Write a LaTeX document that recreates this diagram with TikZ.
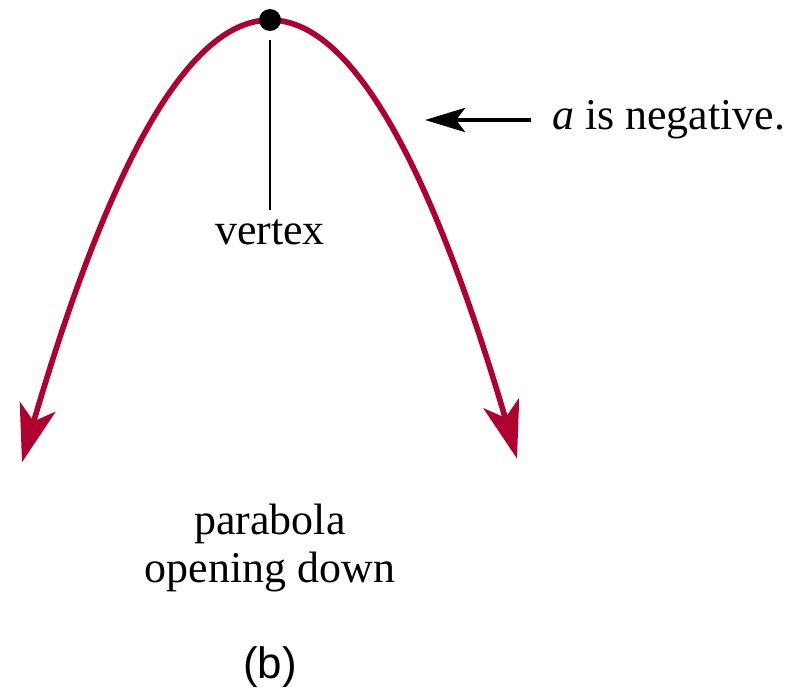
\documentclass[tikz,border=0pt]{standalone}
\usepackage{fontspec}
\setmainfont{Liberation Serif}
\setsansfont{Liberation Sans}
\usetikzlibrary{arrows.meta,positioning}
\definecolor{parared}{RGB}{176,0,48}

\begin{document}
\begin{tikzpicture}[
    x=0.02cm, y=-0.02cm,
    every node/.style={font=\fontsize{25}{27}\selectfont},
    label/.style={align=center, inner sep=1pt},
    curve/.style={{Stealth[length=11.5mm,width=7.4mm,inset=3mm]}-{Stealth[length=11.5mm,width=7.4mm,inset=3mm]}, line width=3.2pt, parared},
    pointer/.style={-{Stealth[length=8mm,width=4.8mm,inset=1.8mm]}, line width=2.8pt},
    stem/.style={line width=1.1pt, shorten <=5pt, shorten >=4pt}
]
\useasboundingbox (0,0) rectangle (804,692);
\draw[curve] plot[domain=-2.48:2.47, samples=120] ({270+100*\x},{20+71.9*\x*\x});
\node[circle, fill=black, inner sep=0pt, minimum size=0.44cm] (top) at (270,20) {};
\node[label] (vert) at (270,232) {vertex};
\node[label, anchor=west] (neg) at (550,120) {\textit{a} is negative.};
\coordinate (curvept) at (425,120);
\node[label] (name) at (270,548) {parabola\\opening down};
\node[label, font=\fontsize{25}{27}\selectfont\sffamily] (part) at (270,667) {(b)};
\draw[stem] (top) -- (vert);
\draw[pointer] ([xshift=-0.38cm]neg.west) -- (curvept);
\end{tikzpicture}
\end{document}
